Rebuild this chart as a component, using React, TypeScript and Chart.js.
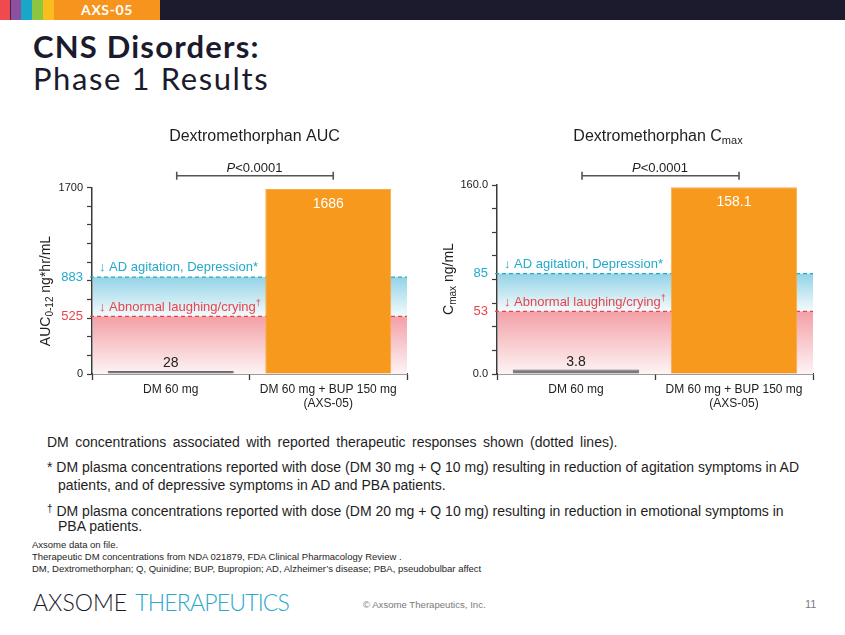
import React, { useEffect, useRef } from "react";
import { Chart, registerables } from "chart.js";

Chart.register(...registerables);

const FONT = "'Liberation Sans', Arial, sans-serif";
const HEAD = "Lato, 'DejaVu Sans', sans-serif";

// ---- data ----
const categories = [["DM 60 mg"], ["DM 60 mg + BUP 150 mg", "(AXS-05)"]];
const aucValues = [28, 1686];
const cmaxValues = [3.8, 158.1];
const aucMajorLabels = [0, 1700];
const cmaxMajorLabels = [0, 160];
const aucThresholds = [883, 525];
const cmaxThresholds = [85, 53];
const thresholdLabels = ["AD agitation, Depression", "Abnormal laughing/crying"];
const pValueText = "<0.0001";

const CYAN = "#23a9c9";
const RED = "#e9434c";
const ORANGE = "#f7991c";
const GRAY = "#7a7a7a";
const AXIS = "#3a3a3a";
const DARK = "#1b1b2d";

type Part = { t: string; size: number; dy?: number; italic?: boolean };

function partsWidth(ctx: CanvasRenderingContext2D, parts: Part[]) {
  let w = 0;
  for (const p of parts) {
    ctx.font = `${p.italic ? "italic " : ""}${p.size}px ${FONT}`;
    w += ctx.measureText(p.t).width;
  }
  return w;
}

function drawParts(ctx: CanvasRenderingContext2D, parts: Part[], x0: number, base: number, color: string, align: "left" | "center") {
  ctx.save();
  ctx.fillStyle = color;
  ctx.textAlign = "left";
  ctx.textBaseline = "alphabetic";
  let x = align === "center" ? x0 - partsWidth(ctx, parts) / 2 : x0;
  for (const p of parts) {
    ctx.font = `${p.italic ? "italic " : ""}${p.size}px ${FONT}`;
    ctx.fillText(p.t, x, base + (p.dy || 0));
    x += ctx.measureText(p.t).width;
  }
  ctx.restore();
}

const decorPlugin = {
  id: "decor",
  beforeDatasetsDraw(chart: any, _args: any, opts: any) {
    const { ctx, chartArea: a, scales } = chart;
    const y = scales.y;
    const [hi, lo] = opts.thresholds;
    const yHi = y.getPixelForValue(hi);
    const yLo = y.getPixelForValue(lo);
    const y0 = y.getPixelForValue(0);
    const left = a.left + 1;
    const w = a.right - left;
    ctx.save();
    let g = ctx.createLinearGradient(0, yHi, 0, yLo);
    g.addColorStop(0, "#93d3e6");
    g.addColorStop(1, "#f4fbfd");
    ctx.fillStyle = g;
    ctx.fillRect(left, yHi, w, yLo - yHi);
    g = ctx.createLinearGradient(0, yLo, 0, y0);
    g.addColorStop(0, "#f3a0a6");
    g.addColorStop(1, "#fdf4f5");
    ctx.fillStyle = g;
    ctx.fillRect(left, yLo, w, y0 - yLo);
    ctx.setLineDash([4, 3]);
    ctx.lineWidth = 1.2;
    ctx.strokeStyle = CYAN;
    ctx.beginPath();
    ctx.moveTo(a.left - 2, yHi);
    ctx.lineTo(a.right, yHi);
    ctx.stroke();
    ctx.strokeStyle = RED;
    ctx.beginPath();
    ctx.moveTo(a.left - 2, yLo);
    ctx.lineTo(a.right, yLo);
    ctx.stroke();
    ctx.restore();
    drawParts(ctx, [{ t: "\u2193 " + thresholdLabels[0] + "*", size: 13 }], a.left + 7, yHi - 6, CYAN, "left");
    drawParts(
      ctx,
      [
        { t: "\u2193 " + thresholdLabels[1], size: 13 },
        { t: "\u2020", size: 9, dy: -5 },
      ],
      a.left + 7,
      yLo - 5,
      RED,
      "left"
    );
  },
  afterDatasetsDraw(chart: any) {
    const { ctx } = chart;
    const meta = chart.getDatasetMeta(0);
    const data = chart.data.datasets[0].data;
    meta.data.forEach((el: any, i: number) => {
      const txt = String(data[i]);
      if (i === 0) {
        drawParts(ctx, [{ t: txt, size: 14 }], el.x, el.y - 4, "#222", "center");
      } else {
        drawParts(ctx, [{ t: txt, size: 14 }], el.x, el.y + 19, "#ffffff", "center");
      }
    });
  },
  afterDraw(chart: any, _args: any, opts: any) {
    const { ctx, chartArea: a, scales } = chart;
    const mid = (a.left + a.right) / 2;
    drawParts(ctx, opts.title, mid + opts.titleDx, 20.7, "#1e1e1e", "center");
    drawParts(ctx, [{ t: "P", size: 13, italic: true }, { t: pValueText, size: 13 }], mid + 5, 51.7, "#1e1e1e", "center");
    const x0 = scales.x.getPixelForValue(0) + 6;
    const x1 = scales.x.getPixelForValue(1) + 5;
    const by = 55.7;
    ctx.save();
    ctx.strokeStyle = "#555";
    ctx.lineWidth = 1.6;
    ctx.beginPath();
    ctx.moveTo(x0, by);
    ctx.lineTo(x1, by);
    ctx.moveTo(x0, by - 4);
    ctx.lineTo(x0, by + 4);
    ctx.moveTo(x1, by - 4);
    ctx.lineTo(x1, by + 4);
    ctx.stroke();
    ctx.restore();
    ctx.save();
    ctx.translate(opts.yTitleX, opts.yTitleY);
    ctx.rotate(-Math.PI / 2);
    drawParts(ctx, opts.yTitle, 0, 0, "#1e1e1e", "center");
    ctx.restore();
  },
};

function makeConfig(values: number[], max: number, step: number, majors: number[], thresholds: number[], fmtMajor: (v: number) => string, plug: any, yWidth: number, padRight: number, padTop: number) {
  const isThr = (v: number) => thresholds.includes(v);
  return {
    type: "bar",
    data: {
      labels: categories,
      datasets: [
        {
          data: values,
          backgroundColor: [GRAY, ORANGE],
          borderColor: ["#6a6a6a", "#f9ab45"],
          borderWidth: 1,
          barPercentage: 0.8,
          categoryPercentage: 1.0,
        },
      ],
    },
    options: {
      responsive: false,
      animation: false,
      layout: { padding: { left: 0, right: padRight, top: padTop, bottom: 0 } },
      plugins: { legend: { display: false }, tooltip: { enabled: false }, decor: plug },
      scales: {
        x: {
          grid: { offset: true, drawOnChartArea: false, tickLength: 6, tickColor: AXIS, tickWidth: 1.3 },
          border: { color: AXIS, width: 1.5 },
          ticks: { color: "#222", font: { size: 12, family: FONT }, padding: 2, maxRotation: 0, autoSkip: false },
          afterFit: (s: any) => {
            s.height = 46;
          },
        },
        y: {
          min: 0,
          max,
          afterBuildTicks: (s: any) => {
            thresholds.forEach((v) => s.ticks.push({ value: v }));
          },
          afterFit: (s: any) => {
            s.width = yWidth;
          },
          grid: {
            drawOnChartArea: false,
            tickLength: 5,
            tickWidth: 1.2,
            tickColor: (c: any) => (c.tick && isThr(c.tick.value) ? "rgba(0,0,0,0)" : AXIS),
          },
          border: { color: AXIS, width: 1.5 },
          ticks: {
            stepSize: step,
            autoSkip: false,
            padding: 4,
            callback: (v: number) => (isThr(v) ? String(v) : majors.includes(v) ? fmtMajor(v) : ""),
            color: (c: any) => (c.tick && c.tick.value === thresholds[0] ? CYAN : c.tick && c.tick.value === thresholds[1] ? RED : "#222"),
            font: (c: any) => ({ size: c.tick && isThr(c.tick.value) ? 13 : 11, family: FONT }),
          },
        },
      },
    },
    plugins: [decorPlugin],
  } as any;
}

function ChartBox({ config, left, top, width, height }: any) {
  const ref = useRef<HTMLCanvasElement | null>(null);
  useEffect(() => {
    if (!ref.current) return;
    const ch = new Chart(ref.current, config);
    return () => ch.destroy();
  }, []);
  return (
    <div style={{ position: "absolute", left, top, width, height }}>
      <canvas ref={ref} width={width} height={height} style={{ width, height, display: "block" }} />
    </div>
  );
}

const abs = (left: number, top: number, extra: any = {}) => ({ position: "absolute" as const, left, top, whiteSpace: "nowrap" as const, ...extra });

export default function App() {
  Chart.defaults.font.family = FONT;
  const aucCfg = makeConfig(aucValues, 1700, 170, aucMajorLabels, aucThresholds, (v) => String(v), {
    thresholds: aucThresholds,
    title: [{ t: "Dextromethorphan AUC", size: 16 }],
    titleDx: 5,
    yTitle: [
      { t: "AUC", size: 14 },
      { t: "0-12", size: 10, dy: 3 },
      { t: " ng*hr/mL", size: 14 },
    ],
    yTitleX: 50,
    yTitleY: 171,
  }, 92, 13, 67.5);
  const cmaxCfg = makeConfig(cmaxValues, 160, 20, cmaxMajorLabels, cmaxThresholds, (v) => v.toFixed(1), {
    thresholds: cmaxThresholds,
    title: [
      { t: "Dextromethorphan C", size: 16 },
      { t: "max", size: 11, dy: 3 },
    ],
    titleDx: 3,
    yTitle: [
      { t: "C", size: 14 },
      { t: "max", size: 10, dy: 3 },
      { t: " ng/mL", size: 14 },
    ],
    yTitleX: 33,
    yTitleY: 159,
  }, 77, 32, 65);

  const foot = { fontFamily: FONT, fontSize: 14, lineHeight: "14px", color: "#1e1e1e" };
  const small = { fontFamily: FONT, fontSize: 9.5, lineHeight: "10px", color: "#1e1e1e" };

  return (
    <div style={{ position: "absolute", left: 0, top: 0, width: 845, height: 635, background: "#fff", overflow: "hidden" }}>
      {/* header bar */}
      <div style={{ position: "absolute", left: 0, top: 0, width: 845, height: 20, background: DARK }} />
      {[
        ["#ef4b4f", 0, 10],
        ["#3b2a4a", 10, 1],
        ["#8d50a0", 11, 10],
        ["#1aa6c9", 21, 11],
        ["#8cc63f", 32, 11],
        ["#fbbd1e", 43, 11],
        ["#f7941d", 54, 106],
      ].map(([c, l, w], i) => (
        <div key={i} style={{ position: "absolute", left: l as number, top: 0, width: w as number, height: 20, background: c as string }} />
      ))}
      <div style={abs(54, 3, { width: 106, textAlign: "center", fontFamily: HEAD, fontWeight: 700, fontSize: 14, lineHeight: "14px", color: "#fff", letterSpacing: 0.6 })}>AXS-05</div>

      <div style={abs(33, 30.5, { fontFamily: HEAD, fontWeight: 700, fontSize: 31, lineHeight: "31px", color: DARK, letterSpacing: 1.2 })}>CNS Disorders:</div>
      <div style={abs(33, 62.5, { fontFamily: HEAD, fontWeight: 400, fontSize: 31, lineHeight: "31px", color: DARK, letterSpacing: 1.6 })}>Phase 1 Results</div>

      <ChartBox config={aucCfg} left={0} top={120} width={420} height={300} />
      <ChartBox config={cmaxCfg} left={420} top={120} width={425} height={300} />

      <div style={abs(47, 435, { ...foot, wordSpacing: 2.6 })}>DM concentrations associated with reported therapeutic responses shown (dotted lines).</div>
      <div style={abs(47, 460, foot)}>* DM plasma concentrations reported with dose (DM 30 mg + Q 10 mg) resulting in reduction of agitation symptoms in AD</div>
      <div style={abs(58, 478, foot)}>patients, and of depressive symptoms in AD and PBA patients.</div>
      <div style={abs(47, 502, foot)}>
        <span style={{ fontSize: 10, verticalAlign: "4px" }}>†</span> DM plasma concentrations reported with dose (DM 20 mg + Q 10 mg) resulting in reduction in emotional symptoms in
      </div>
      <div style={abs(58, 519, foot)}>PBA patients.</div>

      <div style={abs(32, 540, small)}>Axsome data on file.</div>
      <div style={abs(32, 552, small)}>Therapeutic DM concentrations from NDA 021879, FDA Clinical Pharmacology Review .</div>
      <div style={abs(32, 564, small)}>DM, Dextromethorphan; Q, Quinidine; BUP, Bupropion; AD, Alzheimer’s disease; PBA, pseudobulbar affect</div>

      <div style={abs(33, 591, { fontFamily: HEAD, fontWeight: 300, fontSize: 23, lineHeight: "23px" })}>
        <span style={{ color: DARK }}>AXSOME</span>
        <span style={{ color: "#2aa8cb", marginLeft: 8, letterSpacing: -0.8 }}>THERAPEUTICS</span>
      </div>
      <div style={abs(363, 600, { fontFamily: FONT, fontSize: 9.6, lineHeight: "10px", color: "#7a7a7a" })}>© Axsome Therapeutics, Inc.</div>
      <div style={abs(805, 599, { fontFamily: FONT, fontSize: 11, lineHeight: "11px", color: "#7a7a7a" })}>11</div>
    </div>
  );
}
